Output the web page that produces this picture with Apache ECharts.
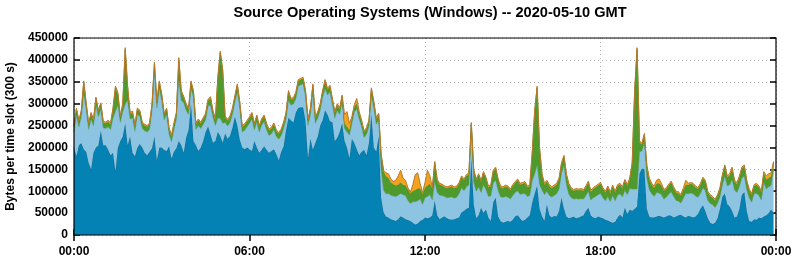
<!DOCTYPE html>
<html>
<head>
<meta charset="utf-8">
<script src="https://cdn.jsdelivr.net/npm/echarts@6/dist/echarts.min.js"></script>
<style>
html,body{margin:0;padding:0;background:#fff;}
#chart{width:795px;height:260px;}
</style>
</head>
<body>
<div id="chart"></div>
<script>
// Values are in thousands of bytes per 300 s slot (288 slots, 00:00 .. 23:55)
const UNIT = 1000;
const SLOTS_PER_DAY = 288;
const title = 'Source Operating Systems (Windows) -- 2020-05-10 GMT';
const yAxisName = 'Bytes per time slot (300 s)';
const seriesNames = ['Windows A', 'Windows B', 'Windows C', 'Windows D'];

const darkBlue = [
  200,180,205,210,196,190,165,150,188,200,
  205,238,205,205,195,182,188,145,200,215,
  225,255,205,225,188,180,200,208,200,188,
  182,190,198,225,170,200,200,194,192,203,
  175,190,198,215,205,188,222,240,300,215,
  205,192,200,215,235,248,230,211,215,235,
  226,211,232,220,226,245,270,250,218,200,
  196,200,196,192,215,200,188,195,203,195,
  188,192,196,185,170,190,203,240,268,262,
  257,280,290,292,291,260,175,220,195,210,
  225,250,262,285,275,260,258,215,222,235,
  255,215,200,175,220,210,196,182,190,195,
  182,210,275,200,190,225,85,52,42,40,
  36,34,32,36,43,40,36,34,32,28,
  24,26,32,35,40,38,40,45,78,45,
  36,40,43,38,36,35,36,38,40,52,
  55,60,62,175,70,38,45,62,50,58,
  40,32,75,85,42,32,28,30,32,30,
  35,43,45,38,32,35,40,45,74,95,
  112,60,43,32,70,45,40,44,42,55,
  85,60,42,38,40,42,38,40,42,45,
  55,62,45,40,38,42,40,38,35,33,
  30,28,30,40,47,40,62,48,58,55,
  60,65,140,152,150,60,42,40,40,42,
  44,42,40,42,45,44,40,42,45,46,
  42,40,44,42,40,42,48,60,68,55,
  38,28,25,28,38,60,88,95,70,65,
  55,40,42,60,92,98,55,32,30,36,
  35,40,38,42,45,50,58,50
];
const lightBlue = [
  35,93,42,60,128,97,76,115,61,97,
  65,49,40,38,52,59,79,137,97,42,
  57,44,102,40,80,57,75,62,43,50,
  53,51,87,148,120,134,107,69,83,27,
  38,51,67,141,102,114,63,35,34,100,
  36,58,43,38,28,47,65,59,35,32,
  40,44,25,29,31,30,33,77,72,35,
  43,47,59,73,25,59,47,56,56,45,
  39,39,45,40,49,37,40,25,39,35,
  42,31,50,51,54,55,75,55,132,45,
  42,35,53,49,45,67,39,52,63,40,
  50,28,35,53,35,71,92,83,57,28,
  48,37,43,90,63,38,65,50,52,55,
  55,55,56,55,52,52,54,45,40,48,
  52,52,50,35,45,50,52,35,45,52,
  55,50,45,47,50,52,48,48,55,56,
  46,50,52,72,50,62,65,35,65,46,
  48,57,44,40,60,55,58,58,55,52,
  55,54,56,55,62,60,48,45,50,45,
  48,55,60,60,30,45,47,46,52,50,
  55,100,73,55,45,40,45,42,41,37,
  35,38,35,45,50,50,55,47,43,55,
  46,62,48,51,47,47,40,44,48,50,
  45,40,50,40,62,70,62,54,48,55,
  52,50,42,44,48,55,48,37,32,27,
  42,55,50,54,54,47,38,35,40,46,
  41,44,44,35,34,27,26,40,42,50,
  72,62,55,51,38,37,48,53,45,58,
  60,50,42,78,60,60,55,100
];
const green = [
  12,14,12,12,25,12,12,12,12,15,
  12,12,12,12,12,12,20,55,25,12,
  15,125,30,12,12,12,12,12,12,12,
  12,12,12,18,12,15,12,12,12,12,
  12,12,12,45,20,12,12,12,15,12,
  12,12,12,12,12,12,18,12,12,90,
  150,120,12,12,12,12,12,15,12,12,
  12,12,12,12,12,12,12,12,12,12,
  12,12,12,12,12,12,12,12,20,12,
  12,12,12,12,12,12,12,12,15,12,
  12,12,12,18,12,12,12,12,12,12,
  12,12,12,12,12,12,12,12,12,12,
  12,12,15,12,12,12,32,43,40,35,
  29,27,25,24,25,23,23,25,23,24,
  27,28,24,23,23,25,25,25,42,27,
  24,23,21,22,23,24,23,23,22,24,
  24,25,25,7,27,25,27,25,27,25,
  21,23,26,27,23,22,21,23,22,20,
  22,22,24,22,23,24,21,22,63,142,
  176,82,34,23,22,22,20,21,21,22,
  22,19,22,22,20,19,20,20,20,19,
  19,20,19,20,21,21,22,20,19,21,
  19,21,19,21,21,20,22,20,21,57,
  222,319,22,15,17,27,23,21,20,20,
  22,21,19,19,20,21,19,18,18,17,
  19,20,20,21,21,20,19,20,21,21,
  18,17,16,16,17,18,21,22,20,21,
  23,20,19,21,22,22,19,17,17,18,
  20,19,17,22,22,20,21,15
];
const orange = [
  3,3,3,3,3,3,3,3,3,3,
  3,3,3,3,3,3,3,3,3,3,
  3,4,3,3,3,3,3,3,3,3,
  3,3,3,4,3,3,3,3,3,3,
  3,3,3,4,3,3,3,3,3,3,
  3,3,3,3,3,3,3,3,3,3,
  4,3,3,3,3,3,3,3,3,3,
  3,3,3,3,3,3,3,3,3,3,
  3,3,3,3,3,3,3,3,3,3,
  3,3,3,3,3,3,3,3,3,3,
  3,3,3,3,3,3,3,3,3,3,
  3,20,35,15,3,5,12,5,3,3,
  3,3,3,3,3,3,3,3,8,10,
  8,6,12,20,28,15,12,4,3,15,
  35,36,12,4,12,35,18,3,3,3,
  3,3,3,3,3,3,3,3,3,3,
  3,3,3,3,3,3,3,3,3,3,
  3,3,3,3,3,3,3,3,3,3,
  3,3,3,3,3,3,3,3,3,3,
  4,3,3,3,3,3,3,3,3,3,
  3,3,3,3,3,3,3,3,3,3,
  3,3,3,3,3,3,3,3,3,3,
  3,3,3,3,3,3,3,3,3,3,
  3,4,3,3,3,3,3,3,4,8,
  10,5,3,3,3,3,3,3,3,3,
  5,10,4,3,3,3,3,3,3,3,
  3,3,3,3,3,3,3,3,3,4,
  5,3,4,3,3,3,3,3,3,3,
  3,3,3,3,8,10,8,3
];

// Time-slot categories 00:00 .. 23:55 plus the closing 00:00 of the next day
const slotLabels = [];
for (let i = 0; i <= SLOTS_PER_DAY; i++) {
  const m = (i * 5) % 1440;
  slotLabels.push(String(Math.floor(m / 60)).padStart(2, '0') + ':' + String(m % 60).padStart(2, '0'));
}
const TICK_EVERY = 72; // 6 hours

const fillColors = ['#0382b3', '#8cc4e2', '#4f9a2d', '#f2a21e'];
const edgeColors = ['#1b6a8c', '#79a9bb', '#5d8a2a', '#b9792a'];

const FONT = '"Liberation Sans", Arial, Helvetica, sans-serif';
const seriesData = [darkBlue, lightBlue, green, orange];

const chart = echarts.init(document.getElementById('chart'), null, {renderer: 'canvas'});
const gridLine = {show: true, lineStyle: {color: '#b4b4b4', width: 1, type: [1, 3]}};
const tickStyle = {color: '#000', width: 1.5};
const tickInterval = (idx) => idx % TICK_EVERY === 0;

const option = {
  animation: false,
  backgroundColor: '#fff',
  title: {
    text: title,
    left: 425, top: 0, textAlign: 'center',
    textStyle: {fontFamily: FONT, fontWeight: 'bold', fontSize: 14.6, color: '#000'}
  },
  grid: {
    left: 74, right: 19, top: 38, bottom: 25,
    containLabel: false, outerBoundsMode: 'none',
    show: true, borderColor: '#000', borderWidth: 1.2,
    backgroundColor: 'transparent', z: 10
  },
  xAxis: [{
    type: 'category', data: slotLabels, boundaryGap: false,
    axisLine: {show: false},
    axisTick: {show: true, inside: true, length: 6, lineStyle: tickStyle, interval: tickInterval},
    splitLine: Object.assign({interval: tickInterval}, gridLine),
    axisLabel: {
      interval: tickInterval, margin: 11, fontFamily: FONT, fontWeight: 'bold', fontSize: 12, color: '#000',
      showMinLabel: true, showMaxLabel: true, hideOverlap: false
    }
  }, {
    type: 'category', data: slotLabels, boundaryGap: false, position: 'top',
    axisLine: {show: false},
    axisTick: {show: true, inside: true, length: 6, lineStyle: tickStyle, interval: tickInterval},
    splitLine: {show: false},
    axisLabel: {show: false}
  }],
  yAxis: [{
    type: 'value', min: 0, max: 450000, interval: 50000,
    name: yAxisName, nameLocation: 'middle', nameGap: 56, nameRotate: 90,
    nameTextStyle: {fontFamily: FONT, fontWeight: 'bold', fontSize: 12, color: '#000'},
    axisLine: {show: false},
    axisTick: {show: true, inside: true, length: 6, lineStyle: tickStyle},
    splitLine: gridLine,
    axisLabel: {margin: 6, fontFamily: FONT, fontWeight: 'bold', fontSize: 12, color: '#000',
      formatter: (v) => String(v)}
  }, {
    type: 'value', position: 'right', min: 0, max: 450000, interval: 50000,
    axisLine: {show: false},
    axisTick: {show: true, inside: true, length: 6, lineStyle: tickStyle},
    splitLine: {show: false},
    axisLabel: {show: false}
  }],
  series: seriesData.map((arr, k) => ({
    name: seriesNames[k],
    type: 'line',
    stack: 'total',
    data: arr.map(v => v * UNIT),
    showSymbol: false,
    symbol: 'none',
    smooth: false,
    xAxisIndex: 0, yAxisIndex: 0,
    lineStyle: {color: edgeColors[k], width: 1},
    areaStyle: {color: fillColors[k], opacity: 1},
    z: 2 + k
  }))
};
const lens = seriesData.map(a => a.length);
if (lens.some(l => l !== SLOTS_PER_DAY)) {
  option.title.subtext = 'LEN ' + lens.join(',');
}
chart.setOption(option);
</script>
</body>
</html>
